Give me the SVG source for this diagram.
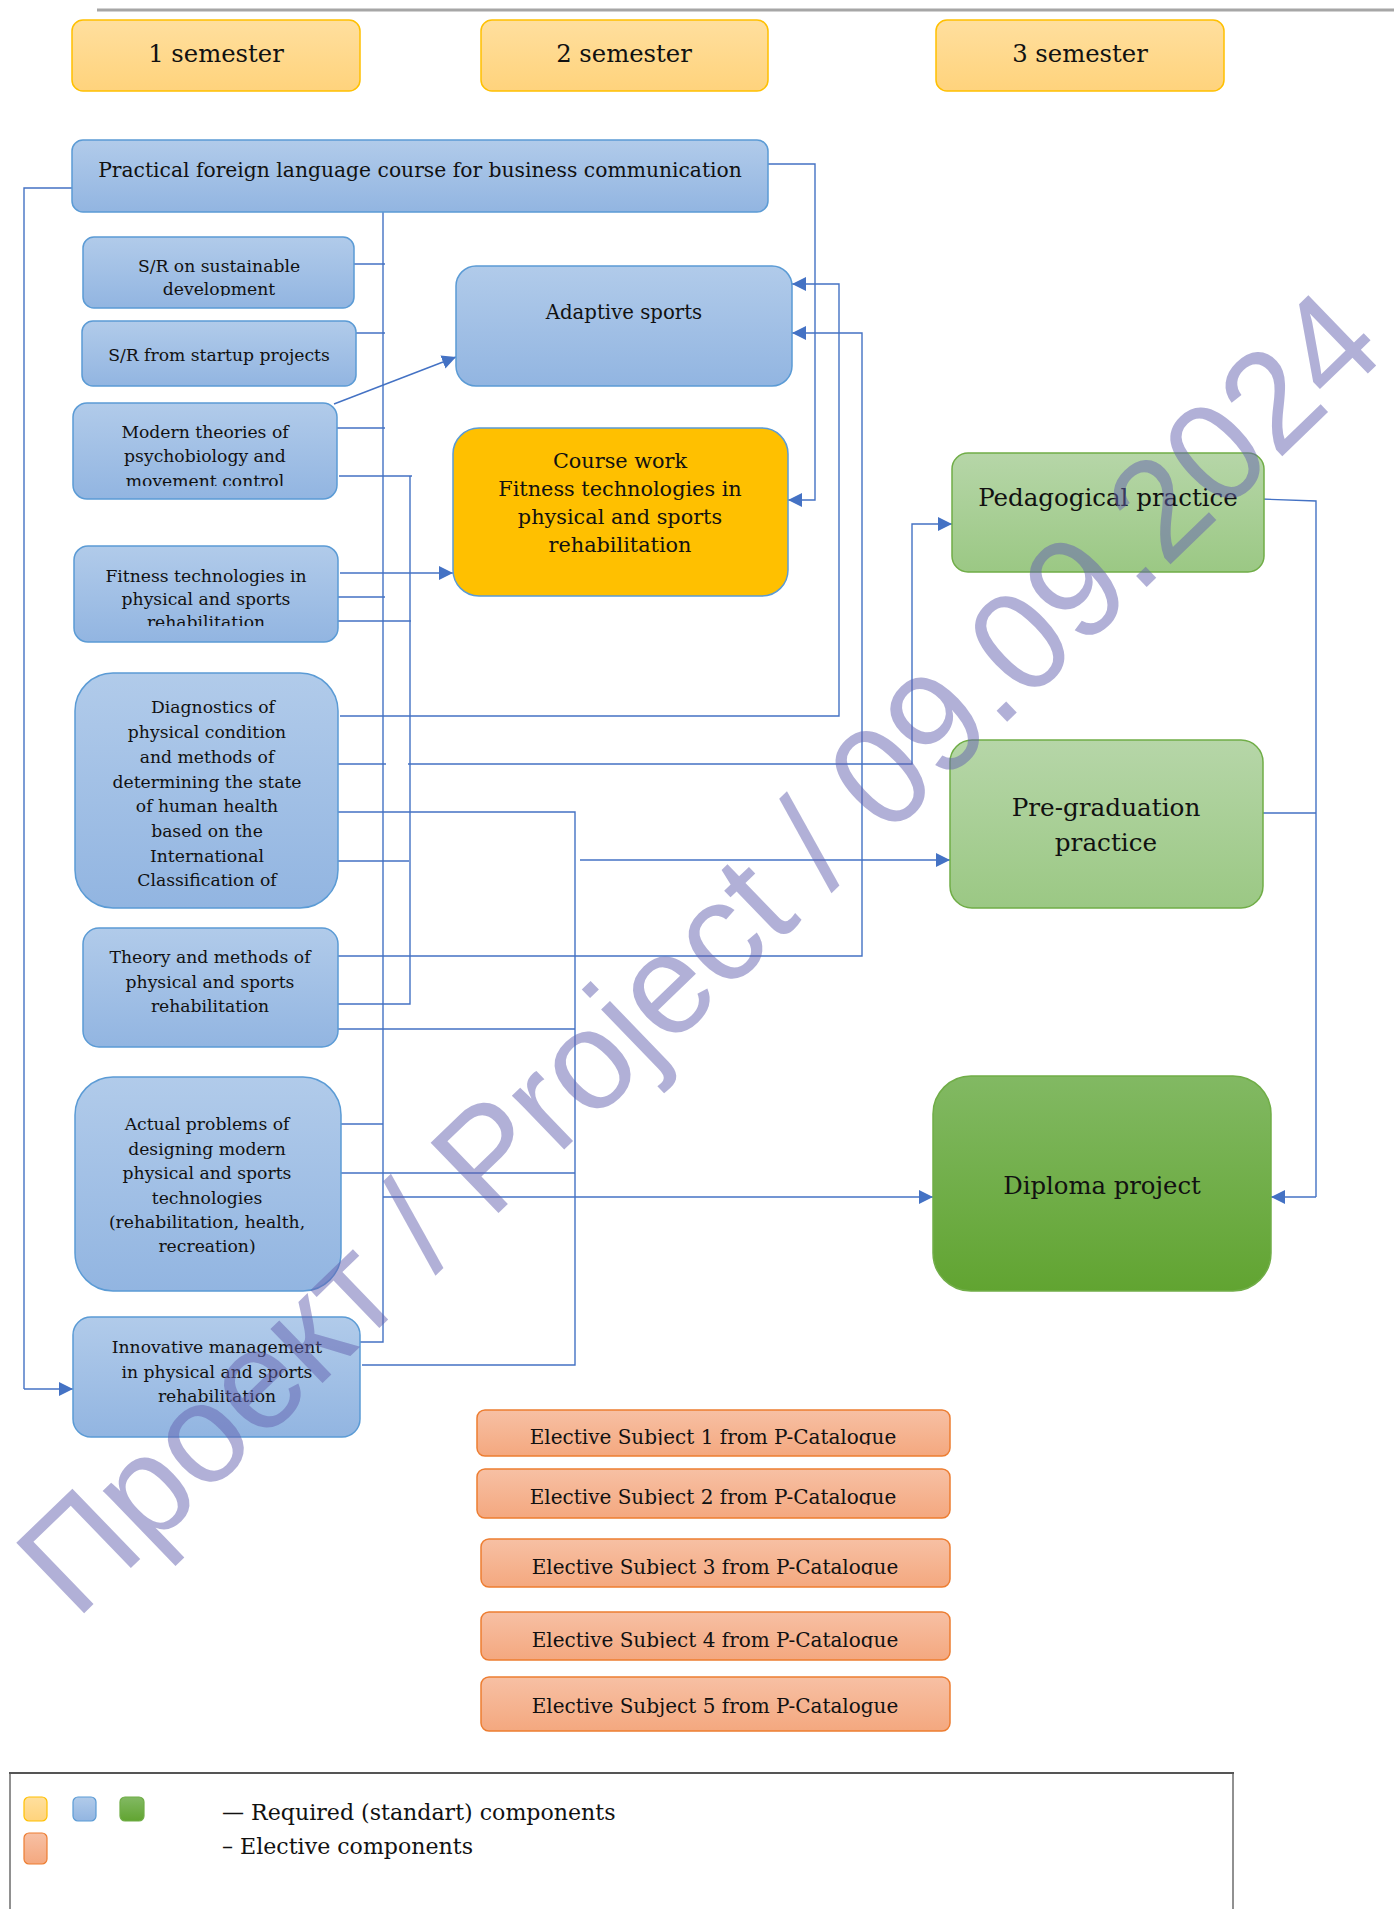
<svg xmlns="http://www.w3.org/2000/svg" width="1394" height="1909" viewBox="0 0 1394 1909">
<style>
.t{font-family:"DejaVu Serif","Liberation Serif",serif;fill:#111;text-anchor:middle}
.s17{font-size:17.2px}.s19{font-size:20px}.s20{font-size:20.3px}.s23{font-size:24.3px}.sc{font-size:20.8px}.sa{font-size:19.7px}
.blue{fill:url(#gBlue);stroke:#5b9bd5;stroke-width:1.5}
.yel{fill:url(#gYel);stroke:#ffc000;stroke-width:1.5}
.grn{fill:url(#gGrn);stroke:#70ad47;stroke-width:1.5}
.dgrn{fill:url(#gDGrn);stroke:#70ad47;stroke-width:1.5}
.org{fill:url(#gOrg);stroke:#ed7d31;stroke-width:1.5}
.c{fill:none;stroke:#4472c4;stroke-width:1.4}
.ca{fill:none;stroke:#4472c4;stroke-width:1.4;marker-end:url(#arr)}
</style>
<defs>
<linearGradient id="gBlue" x1="0" y1="0" x2="0" y2="1"><stop offset="0" stop-color="#b1cbea"/><stop offset="1" stop-color="#92b5e1"/></linearGradient>
<linearGradient id="gYel" x1="0" y1="0" x2="0" y2="1"><stop offset="0" stop-color="#ffdf9e"/><stop offset="1" stop-color="#ffd37c"/></linearGradient>
<linearGradient id="gGrn" x1="0" y1="0" x2="0" y2="1"><stop offset="0" stop-color="#b6d6a8"/><stop offset="1" stop-color="#9bc884"/></linearGradient>
<linearGradient id="gDGrn" x1="0" y1="0" x2="0" y2="1"><stop offset="0" stop-color="#82b963"/><stop offset="1" stop-color="#61a431"/></linearGradient>
<linearGradient id="gOrg" x1="0" y1="0" x2="0" y2="1"><stop offset="0" stop-color="#f7c0a4"/><stop offset="1" stop-color="#f4a87f"/></linearGradient>
<marker id="arr" viewBox="0 0 10 10" refX="10" refY="5" markerWidth="14" markerHeight="14" markerUnits="userSpaceOnUse" orient="auto"><path d="M0,0 L10,5 L0,10 z" fill="#4472c4"/></marker>
<clipPath id="cpSr1"><rect x="83" y="237" width="271" height="59"/></clipPath>
<clipPath id="cpMod"><rect x="73" y="403" width="264" height="83"/></clipPath>
<clipPath id="cpFit"><rect x="74" y="546" width="264" height="80"/></clipPath>
<clipPath id="cpE1"><rect x="477" y="1410" width="473" height="35"/></clipPath>
<clipPath id="cpE2"><rect x="477" y="1469" width="473" height="36"/></clipPath>
<clipPath id="cpE3"><rect x="481" y="1539" width="469" height="36"/></clipPath>
<clipPath id="cpE4"><rect x="481" y="1612" width="469" height="36"/></clipPath>
</defs>
<rect width="1394" height="1909" fill="#fff"/>
<line x1="97" y1="10" x2="1394" y2="10" stroke="#a6a6a6" stroke-width="3"/>

<g id="sem1"><rect class="yel" x="72" y="20" width="288" height="71" rx="11"/><text class="t s23" x="216" y="62">1 semester</text></g>
<g id="sem2"><rect class="yel" x="481" y="20" width="287" height="71" rx="11"/><text class="t s23" x="624" y="62">2 semester</text></g>
<g id="sem3"><rect class="yel" x="936" y="20" width="288" height="71" rx="11"/><text class="t s23" x="1080" y="62">3 semester</text></g>

<g id="connectors">
<path class="c" d="M72,188 H24 V1389"/>
<path class="ca" d="M24,1389 H73"/>
<path class="c" d="M383,212 V1342 H360"/>
<path class="c" d="M354,264 H385 M356,333 H385 M337,428 H385 M338,597 H385 M337,764 H386 M334,1124 H383"/>
<path class="c" d="M339,476 H412 M410,476 V1004 H336 M338,621 H411 M336,861 H409"/>
<path class="ca" d="M408,764 H912 V524 H952"/>
<path class="c" d="M334,812 H575 V1365 H362 M334,1029 H575 M340,1173 H575"/>
<path class="ca" d="M580,860 H950"/>
<path class="ca" d="M383,1197 H933"/>
<path class="ca" d="M340,716 H839 V284 H792"/>
<path class="ca" d="M337,956 H862 V333 H792"/>
<path class="ca" d="M768,164 H815 V500 H788"/>
<path class="ca" d="M334,404 L456,357"/>
<path class="ca" d="M340,573 H453"/>
<path class="c" d="M1261,499 L1316,501 V1197 M1260,813 H1316"/>
<path class="ca" d="M1316,1197 H1271"/>
</g>

<g id="practical"><rect class="blue" x="72" y="140" width="696" height="72" rx="11"/><text class="t s20" x="420" y="177">Practical foreign language course for business communication</text></g>
<g id="sr-sustainable"><rect class="blue" x="83" y="237" width="271" height="71" rx="11"/><text class="t s17" clip-path="url(#cpSr1)"><tspan x="219" y="272">S/R on sustainable</tspan><tspan x="219" y="295">development</tspan></text></g>
<g id="sr-startup"><rect class="blue" x="82" y="321" width="274" height="65" rx="11"/><text class="t s17" x="219" y="361">S/R from startup projects</text></g>
<g id="modern"><rect class="blue" x="73" y="403" width="264" height="96" rx="14"/><text class="t s17" clip-path="url(#cpMod)"><tspan x="205" y="438">Modern theories of</tspan><tspan x="205" y="462">psychobiology and</tspan><tspan x="205" y="487">movement control</tspan></text></g>
<g id="fitness"><rect class="blue" x="74" y="546" width="264" height="96" rx="14"/><text class="t s17" clip-path="url(#cpFit)"><tspan x="206" y="582">Fitness technologies in</tspan><tspan x="206" y="605">physical and sports</tspan><tspan x="206" y="628">rehabilitation</tspan></text></g>
<g id="diagnostics"><rect class="blue" x="75" y="673" width="263" height="235" rx="38"/><text class="t s17"><tspan x="213" y="713">Diagnostics of</tspan><tspan x="207" y="738">physical condition</tspan><tspan x="207" y="763">and methods of</tspan><tspan x="207" y="788">determining the state</tspan><tspan x="207" y="812">of human health</tspan><tspan x="207" y="837">based on the</tspan><tspan x="207" y="862">International</tspan><tspan x="207" y="886">Classification of</tspan></text></g>
<g id="theory"><rect class="blue" x="83" y="928" width="255" height="119" rx="16"/><text class="t s17"><tspan x="210" y="963">Theory and methods of</tspan><tspan x="210" y="988">physical and sports</tspan><tspan x="210" y="1012">rehabilitation</tspan></text></g>
<g id="actual"><rect class="blue" x="75" y="1077" width="266" height="214" rx="38"/><text class="t s17"><tspan x="207" y="1130">Actual problems of</tspan><tspan x="207" y="1155">designing modern</tspan><tspan x="207" y="1179">physical and sports</tspan><tspan x="207" y="1204">technologies</tspan><tspan x="207" y="1228">(rehabilitation, health,</tspan><tspan x="207" y="1252">recreation)</tspan></text></g>
<g id="innovative"><rect class="blue" x="73" y="1317" width="287" height="120" rx="18"/><text class="t s17"><tspan x="217" y="1353">Innovative management</tspan><tspan x="217" y="1378">in physical and sports</tspan><tspan x="217" y="1402">rehabilitation</tspan></text></g>
<g id="adaptive"><rect class="blue" x="456" y="266" width="336" height="120" rx="20"/><text class="t sa" x="624" y="319">Adaptive sports</text></g>
<g id="coursework"><rect x="453" y="428" width="335" height="168" rx="26" fill="#ffc000" stroke="#5b9bd5" stroke-width="1.5"/><text class="t sc"><tspan x="620" y="468">Course work</tspan><tspan x="620" y="496">Fitness technologies in</tspan><tspan x="620" y="524">physical and sports</tspan><tspan x="620" y="552">rehabilitation</tspan></text></g>
<g id="pedagogical"><rect class="grn" x="952" y="453" width="312" height="119" rx="16"/><text class="t" style="font-size:24.5px" x="1108" y="506">Pedagogical practice</text></g>
<g id="pregraduation"><rect class="grn" x="950" y="740" width="313" height="168" rx="22"/><text class="t" style="font-size:24.7px"><tspan x="1106" y="816">Pre-graduation</tspan><tspan x="1106" y="851">practice</tspan></text></g>
<g id="diploma"><rect class="dgrn" x="933" y="1076" width="338" height="215" rx="38"/><text class="t s23" x="1102" y="1194">Diploma project</text></g>

<g id="elective1"><rect class="org" x="477" y="1410" width="473" height="46" rx="8"/><text class="t s19" x="713" y="1444" clip-path="url(#cpE1)">Elective Subject 1 from P-Catalogue</text></g>
<g id="elective2"><rect class="org" x="477" y="1469" width="473" height="49" rx="8"/><text class="t s19" x="713" y="1504" clip-path="url(#cpE2)">Elective Subject 2 from P-Catalogue</text></g>
<g id="elective3"><rect class="org" x="481" y="1539" width="469" height="48" rx="8"/><text class="t s19" x="715" y="1574" clip-path="url(#cpE3)">Elective Subject 3 from P-Catalogue</text></g>
<g id="elective4"><rect class="org" x="481" y="1612" width="469" height="48" rx="8"/><text class="t s19" x="715" y="1647" clip-path="url(#cpE4)">Elective Subject 4 from P-Catalogue</text></g>
<g id="elective5"><rect class="org" x="481" y="1677" width="469" height="54" rx="8"/><text class="t s19" x="715" y="1713">Elective Subject 5 from P-Catalogue</text></g>

<g id="legend">
<path d="M10,1909 V1773 M1233,1773 V1909" stroke="#222" stroke-width="1" fill="none"/>
<line x1="9" y1="1773" x2="1234" y2="1773" stroke="#555" stroke-width="2.2"/>
<rect x="24" y="1797" width="23" height="24" rx="5" fill="url(#gYel)" stroke="#ffc000" stroke-width="1.2"/>
<rect x="73" y="1797" width="23" height="24" rx="5" fill="url(#gBlue)" stroke="#5b9bd5" stroke-width="1.2"/>
<rect x="120" y="1797" width="24" height="24" rx="5" fill="url(#gDGrn)" stroke="#70ad47" stroke-width="1.2"/>
<rect x="24" y="1833" width="23" height="31" rx="5" fill="url(#gOrg)" stroke="#ed7d31" stroke-width="1.2"/>
<text class="t" style="font-size:22.1px;text-anchor:start" x="222" y="1820">— Required (standart) components</text>
<text class="t" style="font-size:22.1px;text-anchor:start" x="222" y="1854">– Elective components</text>
</g>

<text x="76" y="1621" transform="rotate(-44 76 1621)" font-family="Liberation Sans, Arial, sans-serif" font-size="142" fill="#6361b0" fill-opacity="0.5" textLength="1825" lengthAdjust="spacingAndGlyphs">Проект / Project / 09.09.2024</text>
</svg>
